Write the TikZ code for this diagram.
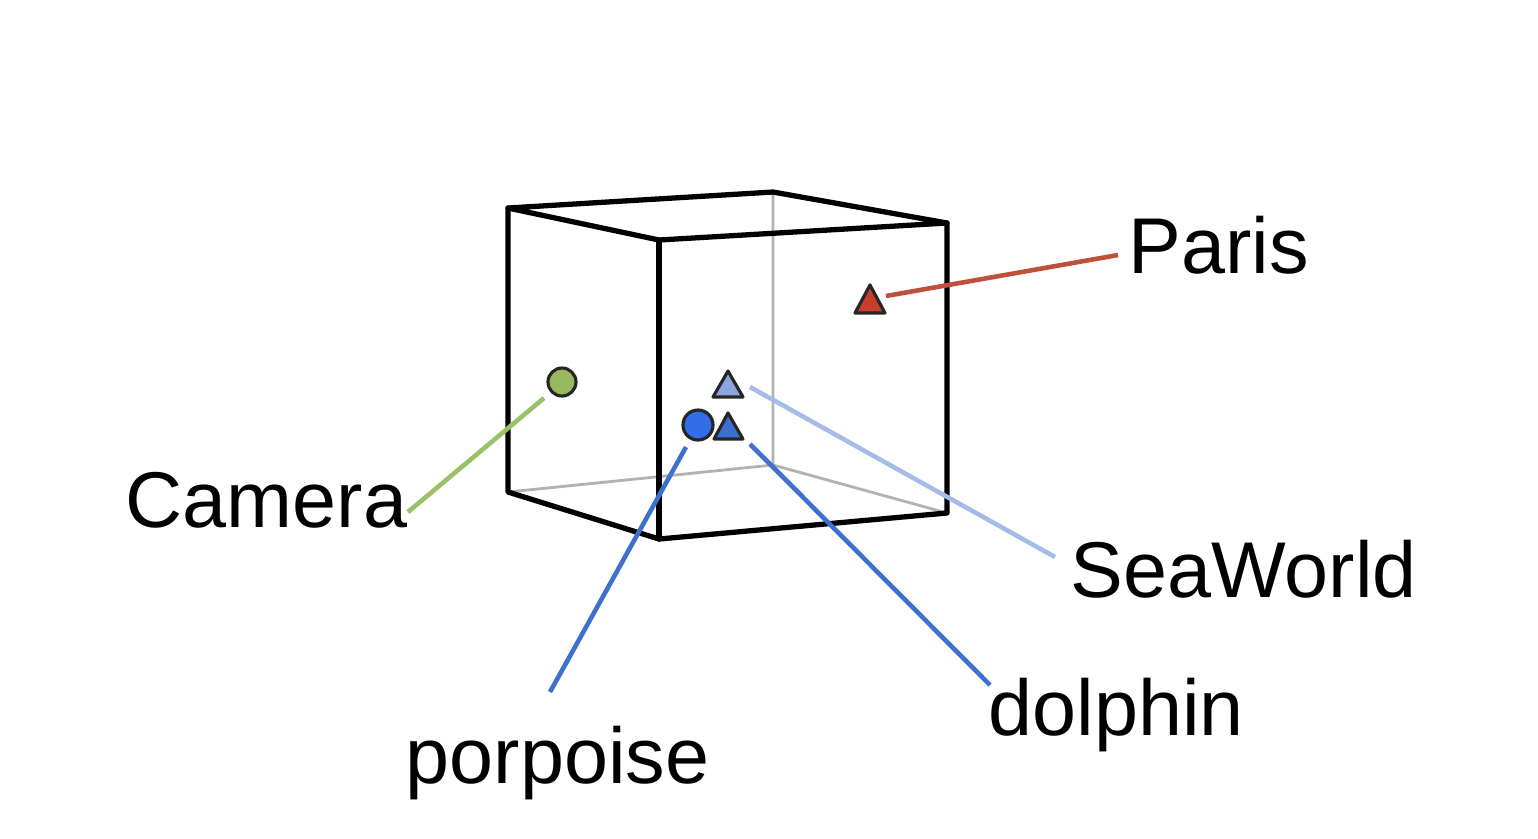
\documentclass[tikz,border=0pt]{standalone}
\usepackage{fontspec}
\setmainfont{Liberation Sans}
\begin{document}
\begin{tikzpicture}[x=0.01cm,y=-0.01cm,
  edge/.style={line width=1.5pt,line join=round,line cap=round},
  hidden/.style={line width=0.8pt,draw=black!30},
  conn/.style={line width=1.3pt},
  lbl/.style={font=\fontsize{22.5}{27}\selectfont,anchor=base west,inner sep=0pt},
  tri/.style={draw=black!85,line width=0.9pt,line join=round},
  dot/.style={draw=black!85,line width=0.9pt}]
\useasboundingbox (0,0) rectangle (1538,838);
\definecolor{camgreen}{RGB}{150,185,95}
\definecolor{camline}{RGB}{155,192,105}
\definecolor{parisred}{RGB}{200,62,40}
\definecolor{parisline}{RGB}{190,80,60}
\definecolor{swfill}{RGB}{140,165,220}
\definecolor{swline}{RGB}{165,188,232}
\definecolor{pblue}{RGB}{50,110,232}
\definecolor{dblue}{RGB}{60,110,212}
\definecolor{lblue}{RGB}{62,112,205}
% cube corners
\coordinate (A) at (508,208);
\coordinate (B) at (773,192);
\coordinate (C) at (947,223);
\coordinate (D) at (659,240);
\coordinate (E) at (508,492);
\coordinate (F) at (773,465);
\coordinate (G) at (947,513);
\coordinate (H) at (659,539);
% hidden edges
\draw[hidden] (B) -- (F) (E) -- (F) -- (G);
% visible edges
\draw[edge] (A) -- (B) -- (C) -- (D) -- cycle;
\draw[edge] (A) -- (E) -- (H) -- (G) -- (C);
\draw[edge] (D) -- (H);
% markers
\draw[dot,fill=camgreen] (562,382) circle (14);
\coordinate (camS) at (544,398);
\draw[tri,fill=parisred] (870,285) -- (885,313) -- (855,313) -- cycle;
\coordinate (parS) at (886,296);
\draw[tri,fill=swfill] (728,371) -- (743,397) -- (713,397) -- cycle;
\coordinate (swS) at (750,387);
\draw[dot,fill=pblue] (698,425) circle (15);
\coordinate (porS) at (686,447);
\draw[tri,fill=dblue] (728,413) -- (743,439) -- (714,439) -- cycle;
\coordinate (dolS) at (750,444);
% label ends
\coordinate (camE) at (408,512);
\coordinate (parE) at (1118,255);
\coordinate (swE) at (1055,557);
\coordinate (dolE) at (990,685);
\coordinate (porE) at (550,692);
% labels
\node[lbl] (cam) at (125,527) {Camera};
\node[lbl] (par) at (1128,273) {Paris};
\node[lbl] (sw) at (1070,597) {SeaWorld};
\node[lbl] (dol) at (988,735) {dolphin};
\node[lbl] (por) at (405,783) {porpoise};
% connectors
\draw[conn,camline] (camS) -- (camE);
\draw[conn,parisline] (parS) -- (parE);
\draw[conn,swline] (swS) -- (swE);
\draw[conn,lblue] (dolS) -- (dolE);
\draw[conn,lblue] (porS) -- (porE);
\end{tikzpicture}
\end{document}
